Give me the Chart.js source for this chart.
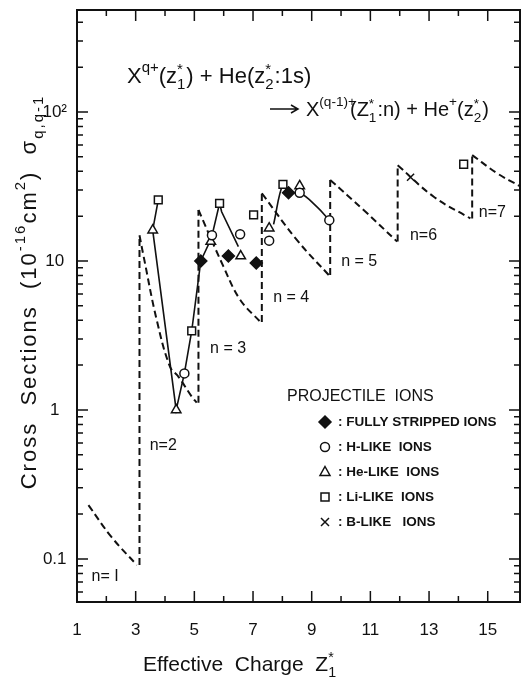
<!DOCTYPE html>
<html>
<head>
<meta charset="utf-8">
<script src="https://cdn.jsdelivr.net/npm/chart.js@4.4.1/dist/chart.umd.min.js"></script>
<style>
  html, body { margin: 0; padding: 0; background: #fff; }
  #wrap { width: 521px; height: 687px; position: relative; }
</style>
</head>
<body>
<div id="wrap"><canvas id="chart"></canvas></div>
<script>
// ---- values ----
const xTickValues = [1, 3, 5, 7, 9, 11, 13, 15];
const xTickLabels = ['1', '3', '5', '7', '9', '11', '13', '15'];
const yTickValues = [0.1, 1, 10, 100];
const yTickLabels = ['0.1', '1', '10', '10²'];

// measured cross sections per projectile type
const fullyX = [5.22, 6.16, 7.11, 8.21];
const fullyY = [10, 10.8, 9.7, 28.7];
const hLikeX = [4.66, 5.6, 6.56, 7.55, 8.59, 9.6];
const hLikeY = [1.76, 14.9, 15.1, 13.7, 28.7, 18.8];
const heLikeX = [3.58, 4.38, 5.56, 6.58, 7.55, 8.59];
const heLikeY = [16.1, 1.0, 13.5, 10.8, 16.6, 31.9];
const liLikeX = [3.77, 4.91, 5.86, 7.02, 8.02, 14.18];
const liLikeY = [25.7, 3.39, 24.4, 20.4, 32.7, 44.6];
const bLikeX = [12.37];
const bLikeY = [36.5];

// solid lines drawn through the data
const solidAX = [3.77, 3.58, 4.38, 4.66, 4.91, 5.22, 5.58, 5.86, 5.93, 6.5];
const solidAY = [25.7, 16.1, 1.0, 1.76, 3.39, 10, 14.2, 24.4, 21.4, 12.5];
const solidBX = [7.7, 8.02, 8.21, 8.59, 9.18, 9.6];
const solidBY = [17.6, 32.7, 28.7, 28.7, 23.1, 18.8];

// dashed curves, one per final shell n
const shellN = [1, 2, 3, 4, 5, 6, 7];
const shellX = [
    [1.39, 2.18, 3.04],
    [3.13, 3.26, 3.72, 4.17, 4.46, 4.91, 5.08],
    [5.14, 5.99, 6.56, 7.25],
    [7.3, 8.5, 9.58],
    [9.63, 10.77, 11.91],
    [11.93, 13.16, 14.41],
    [14.47, 15.32, 16.12]
];
const shellY = [
    [0.23, 0.14, 0.091],
    [14.9, 11, 4.0, 1.95, 1.67, 1.23, 1.12],
    [22, 9.2, 5.5, 3.9],
    [28.5, 13.8, 8.05],
    [35, 22, 13.5],
    [44, 27, 19.3],
    [51.4, 38.8, 31.6]
];

const INK = '#111';
const FONT = '"Liberation Sans", Arial, sans-serif';

const pts = (xs, ys) => xs.map((x, i) => ({ x: x, y: ys[i] }));

// vertical dashed jumps between neighbouring shells
const jumps = [];
for (let k = 1; k < shellX.length; k++) {
    const prevY = shellY[k - 1][shellY[k - 1].length - 1];
    jumps.push({ x: shellX[k][0], y: prevY }, { x: shellX[k][0], y: shellY[k][0] }, { x: null, y: null });
}

const markerSet = (xs, ys, style, radius, fill) => ({
    data: pts(xs, ys),
    pointStyle: style,
    pointRadius: radius,
    pointBackgroundColor: fill,
    pointBorderColor: INK,
    pointBorderWidth: 1.5,
    showLine: false
});

const datasets = [
    markerSet(fullyX, fullyY, 'rectRot', 6, INK),
    markerSet(hLikeX, hLikeY, 'circle', 4.5, '#fff'),
    markerSet(heLikeX, heLikeY, 'triangle', 5.5, '#fff'),
    markerSet(liLikeX, liLikeY, 'rect', 5.5, '#fff'),
    markerSet(bLikeX, bLikeY, 'crossRot', 5, '#fff'),
    { data: pts(solidAX, solidAY), showLine: true, borderColor: INK, borderWidth: 1.6, pointRadius: 0, tension: 0 },
    { data: pts(solidBX, solidBY), showLine: true, borderColor: INK, borderWidth: 1.6, pointRadius: 0, tension: 0.4 },
    { data: jumps, showLine: true, borderColor: INK, borderWidth: 2, borderDash: [7, 4], pointRadius: 0, spanGaps: false }
];
shellN.forEach((n, k) => {
    datasets.push({
        data: pts(shellX[k], shellY[k]), showLine: true, borderColor: INK, borderWidth: 2,
        borderDash: [7, 4], pointRadius: 0, tension: 0.4
    });
});

// text runs: plain, superscript (up), subscript (down) or a star over an index (stack)
// dx shifts the pen before a run is drawn
function drawRuns(ctx, x, y, runs, size, measureOnly) {
    const start = x;
    ctx.textBaseline = 'alphabetic';
    ctx.textAlign = 'left';
    runs.forEach(r => {
        x += r.dx || 0;
        if (r.stack) {
            ctx.font = `${size * 0.68}px ${FONT}`;
            const w = Math.max(ctx.measureText(r.stack[0]).width, ctx.measureText(r.stack[1]).width);
            if (!measureOnly) {
                ctx.fillText(r.stack[0], x, y - size * 0.42);
                ctx.fillText(r.stack[1], x, y + size * 0.28);
            }
            x += w + 1;
            return;
        }
        const small = r.up || r.down;
        ctx.font = `${small ? size * 0.68 : size}px ${FONT}`;
        const dy = r.up ? -size * 0.5 : (r.down ? size * 0.3 : 0);
        if (!measureOnly) ctx.fillText(r.t, x, y + dy);
        x += ctx.measureText(r.t).width;
    });
    return x - start;
}

function drawMarker(ctx, style, x, y) {
    ctx.save();
    ctx.lineWidth = 1.5;
    ctx.strokeStyle = INK;
    ctx.fillStyle = '#fff';
    ctx.beginPath();
    if (style === 'diamond') {
        ctx.moveTo(x, y - 6); ctx.lineTo(x + 6, y); ctx.lineTo(x, y + 6); ctx.lineTo(x - 6, y); ctx.closePath();
        ctx.fillStyle = INK; ctx.fill(); ctx.stroke();
    } else if (style === 'circle') {
        ctx.arc(x, y, 4.5, 0, Math.PI * 2); ctx.fill(); ctx.stroke();
    } else if (style === 'triangle') {
        ctx.moveTo(x, y - 5.5); ctx.lineTo(x + 5, y + 3.5); ctx.lineTo(x - 5, y + 3.5); ctx.closePath(); ctx.stroke();
    } else if (style === 'square') {
        ctx.rect(x - 4, y - 4, 8, 8); ctx.stroke();
    } else {
        ctx.moveTo(x - 4, y - 4); ctx.lineTo(x + 4, y + 4); ctx.moveTo(x + 4, y - 4); ctx.lineTo(x - 4, y + 4); ctx.stroke();
    }
    ctx.restore();
}

const legendRows = [
    ['diamond', ': FULLY STRIPPED IONS'],
    ['circle', ': H-LIKE  IONS'],
    ['triangle', ': He-LIKE  IONS'],
    ['square', ': Li-LIKE  IONS'],
    ['cross', ': B-LIKE   IONS']
];

// where the shell labels sit (in data units)
const shellLabelAt = [[1.96, 0.076], [3.94, 0.58], [6.15, 2.6], [8.3, 5.7], [10.62, 9.85], [12.81, 14.9], [15.16, 21]];
const shellLabelText = ['n= I', 'n=2', 'n = 3', 'n = 4', 'n = 5', 'n=6', 'n=7'];

const decorations = {
    id: 'decorations',
    afterDraw(chart) {
        const ctx = chart.ctx;
        const { left, right, top, bottom } = chart.chartArea;
        const xs = chart.scales.x, ys = chart.scales.y;
        ctx.save();
        ctx.strokeStyle = INK;
        ctx.fillStyle = INK;

        // frame
        ctx.lineWidth = 2;
        ctx.strokeRect(left, top, right - left, bottom - top);

        // inward ticks on all four sides
        ctx.lineWidth = 1.5;
        ctx.beginPath();
        xs.ticks.forEach(t => {
            if (Math.abs(t.value - Math.round(t.value)) > 1e-6) return;
            const px = xs.getPixelForValue(t.value);
            const len = (Math.round(t.value) % 2 === 1) ? 11 : 6;
            ctx.moveTo(px, bottom); ctx.lineTo(px, bottom - len);
            ctx.moveTo(px, top); ctx.lineTo(px, top + len);
        });
        ys.ticks.forEach(t => {
            const mant = t.value / Math.pow(10, Math.floor(Math.log10(t.value) + 1e-9));
            if (Math.abs(mant - Math.round(mant)) > 1e-6) return;
            const py = ys.getPixelForValue(t.value);
            const len = Math.round(mant) === 1 ? 11 : 6;
            ctx.moveTo(left, py); ctx.lineTo(left + len, py);
            ctx.moveTo(right, py); ctx.lineTo(right - len, py);
        });
        ctx.stroke();

        // reaction equation
        drawRuns(ctx, 127, 83, [
            { t: 'X' }, { t: 'q+', up: 1 }, { t: '(z' }, { stack: ['*', '1'] },
            { t: ') + He(z' }, { stack: ['*', '2'] }, { t: ':1s)' }
        ], 22);
        ctx.lineWidth = 1.5;
        ctx.beginPath();
        ctx.moveTo(270, 109); ctx.lineTo(297, 109);
        ctx.moveTo(291, 105); ctx.lineTo(298, 109); ctx.lineTo(291, 113);
        ctx.stroke();
        drawRuns(ctx, 306, 116, [
            { t: 'X' }, { t: '(q-1)+', up: 1 }, { t: '(Z', dx: -6 }, { stack: ['*', '1'] },
            { t: ':n) + He' }, { t: '+', up: 1 }, { t: '(z' }, { stack: ['*', '2'] }, { t: ')' }
        ], 20);

        // shell labels
        ctx.font = `16px ${FONT}`;
        ctx.textAlign = 'center';
        ctx.textBaseline = 'middle';
        shellLabelAt.forEach((p, k) => {
            ctx.fillText(shellLabelText[k], xs.getPixelForValue(p[0]), ys.getPixelForValue(p[1]));
        });

        // legend block
        ctx.textAlign = 'left';
        ctx.textBaseline = 'middle';
        ctx.font = `16px ${FONT}`;
        ctx.fillText('PROJECTILE  IONS', 287, 397);
        ctx.font = `bold 13.5px ${FONT}`;
        legendRows.forEach((row, i) => {
            const y = 422 + i * 25;
            drawMarker(ctx, row[0], 325, y);
            ctx.fillStyle = INK;
            ctx.fillText(row[1], 338, y);
        });

        // axis titles
        drawRuns(ctx, 143, 671, [{ t: 'Effective  Charge  Z' }, { stack: ['*', '1'] }], 21);

        const yRuns = [
            { t: 'Cross  Sections  (10' }, { t: '-16', up: 1 }, { t: 'cm' }, { t: '2', up: 1 },
            { t: ')  σ' }, { t: 'q,q-1', down: 1 }
        ];
        ctx.letterSpacing = '2px';
        const w = drawRuns(ctx, 0, 0, yRuns, 22, true);
        ctx.translate(36, 292);
        ctx.rotate(-Math.PI / 2);
        drawRuns(ctx, -w / 2, 0, yRuns, 22);
        ctx.restore();
    }
};

// drop the edge padding Chart.js reserves for half-labels so the frame keeps its place
const noEdgePadding = scale => {
    scale.paddingTop = 0;
    scale.paddingBottom = 0;
    scale.paddingLeft = 0;
    scale.paddingRight = 0;
};

new Chart(document.getElementById('chart'), {
    type: 'scatter',
    data: { datasets: datasets },
    options: {
        responsive: true,
        maintainAspectRatio: false,
        animation: false,
        layout: { autoPadding: false, padding: { left: 0, right: 1, top: 10, bottom: 0 } },
        plugins: { legend: { display: false }, tooltip: { enabled: false } },
        scales: {
            x: {
                type: 'linear',
                min: 1,
                max: 16.1,
                grid: { display: false, drawTicks: false },
                border: { display: false },
                afterFit: scale => { scale.height = 85; noEdgePadding(scale); },
                ticks: {
                    stepSize: 1,
                    autoSkip: false,
                    maxRotation: 0,
                    padding: 18,
                    color: INK,
                    font: { family: FONT, size: 17 },
                    callback: v => {
                        const i = xTickValues.indexOf(v);
                        return i >= 0 ? xTickLabels[i] : '';
                    }
                }
            },
            y: {
                type: 'logarithmic',
                min: 0.0514,
                max: 484,
                grid: { display: false, drawTicks: false },
                border: { display: false },
                afterFit: scale => { scale.width = 77; noEdgePadding(scale); },
                ticks: {
                    autoSkip: false,
                    crossAlign: 'center',
                    padding: 10,
                    color: INK,
                    font: { family: FONT, size: 17 },
                    callback: v => {
                        const i = yTickValues.findIndex(t => Math.abs(t - v) / t < 1e-6);
                        return i >= 0 ? yTickLabels[i] : '';
                    }
                }
            }
        }
    },
    plugins: [decorations]
});
</script>
</body>
</html>
